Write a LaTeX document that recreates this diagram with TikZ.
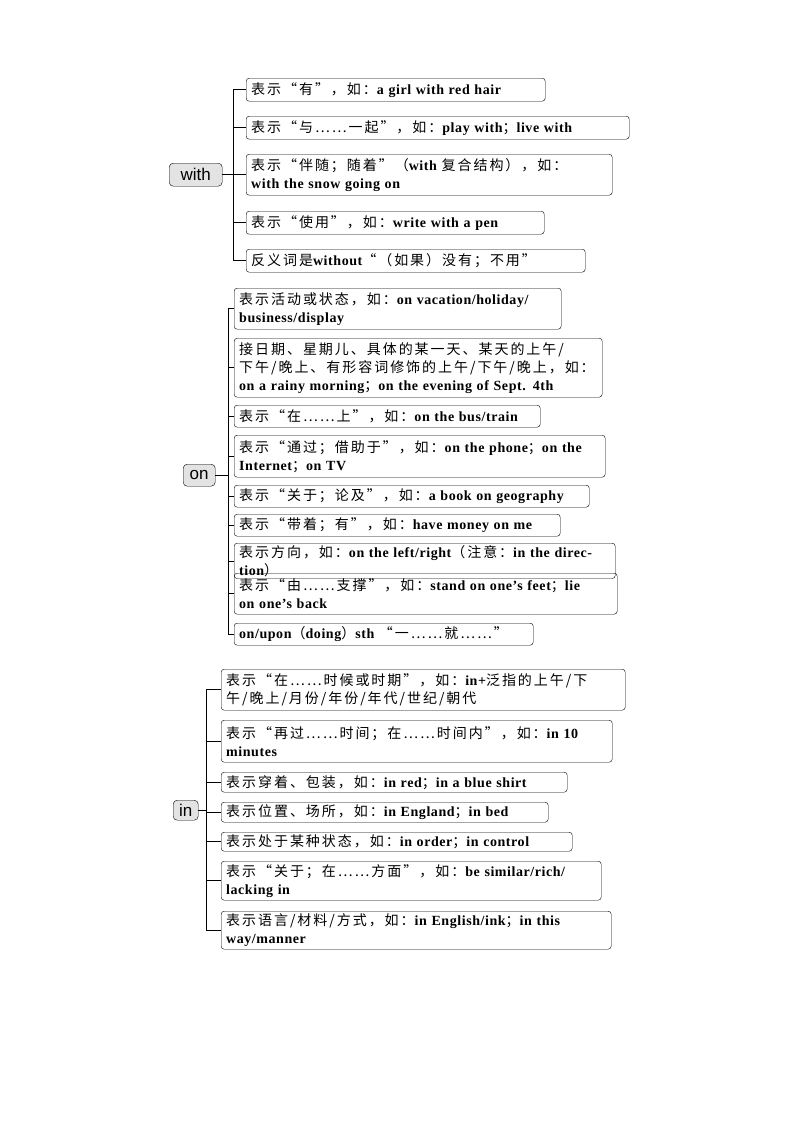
\documentclass[tikz,border=0pt]{standalone}
\usepackage{fontspec}
\setmainfont{Liberation Serif}[LetterSpace=4]
\newfontfamily\cjk{Noto Sans CJK SC}[LetterSpace=14]
\newfontfamily\rootf{Liberation Sans}
\newcommand{\C}[1]{{\cjk\mdseries #1}}
\tikzset{
  box/.style={draw, rounded corners=3pt, anchor=north west, align=left, inner xsep=5pt, inner ysep=2pt,
    font=\fontsize{14}{18}\selectfont\bfseries},
  rootbox/.style={draw, rounded corners=4pt, fill=gray!22, anchor=north west, inner sep=0pt,
    font=\rootf\fontsize{17}{18}\selectfont},
  link/.style={line width=0.7pt}
}
\newcommand{\bx}[6]{\node[box, minimum width=#4-#2, minimum height=#5-#3, text width=#4-#2-10] (#1) at (#2,#3) {#6};}
\newcommand{\rt}[6]{\node[rootbox, minimum width=#4-#2, minimum height=#5-#3] (#1) at (#2,#3) {#6};}
\begin{document}
\begin{tikzpicture}[x=1pt,y=-1pt]
\useasboundingbox (0,0) rectangle (800,1132);
% with
\rt{wr}{169}{163}{222}{186}{with}
\bx{w1}{246}{78}{545}{101}{\C{表示“有”，如：}a girl with red hair}
\bx{w2}{246}{116}{629}{139}{\C{表示“与……一起”，如：}play with\C{；}live with}
\bx{w3}{246}{154}{612}{195}{\C{表示“伴随；随着”（}with \C{复合结构），如：}\\with the snow going on}
\bx{w4}{246}{211}{544}{234}{\C{表示“使用”，如：}write with a pen}
\bx{w5}{246}{249}{585}{272}{\C{反义词是}without\C{“（如果）没有；不用”}}
\draw[link] (wr.east) -- ++(11,0) coordinate (wj);
\draw[link] (w1.west) -- (w1.west -| wj) -- (w5.west -| wj) -- (w5.west);
\foreach \n in {w2,w3,w4} \draw[link] (\n.west) -- (\n.west -| wj);
% on
\rt{or}{183}{464}{215}{486}{on}
\bx{o1}{234}{288}{561}{329}{\C{表示活动或状态，如：}on vacation/holiday/\\business/display}
\bx{o2}{234}{338}{602}{397}{\C{接日期、星期儿、具体的某一天、某天的上午/}\\\C{下午/晚上、有形容词修饰的上午/下午/晚上，如：}\\on a rainy morning\C{；}on the evening of Sept. 4th}
\bx{o3}{234}{405}{540}{427}{\C{表示“在……上”，如：}on the bus/train}
\bx{o4}{234}{435}{605}{477}{\C{表示“通过；借助于”，如：}on the phone\C{；}on the\\Internet\C{；}on TV}
\bx{o5}{234}{485}{589}{507}{\C{表示“关于；论及”，如：}a book on geography}
\bx{o6}{234}{514}{560}{536}{\C{表示“带着；有”，如：}have money on me}
\bx{o7}{234}{543}{615}{565}{\C{表示方向，如：}on the left/right\C{（注意：}in the direction\C{）}}
\bx{o8}{234}{573}{617}{614}{\C{表示“由……支撑”，如：}stand on one's feet\C{；}lie\\on one's back}
\bx{o9}{234}{623}{533}{645}{on/upon\C{（}doing\C{）}sth \C{“一……就……”}}
\draw[link] (or.east) -- ++(13,0) coordinate (oj);
\draw[link] (o1.west) -- (o1.west -| oj) -- (o9.west -| oj) -- (o9.west);
\foreach \n in {o2,o3,o4,o5,o6,o7,o8} \draw[link] (\n.west) -- (\n.west -| oj);
% in
\rt{ir}{173}{800}{198}{820}{in}
\bx{i1}{221}{669}{625}{710}{\C{表示“在……时候或时期”，如：}in+\C{泛指的上午/下}\\\C{午/晚上/月份/年份/年代/世纪/朝代}}
\bx{i2}{221}{720}{612}{762}{\C{表示“再过……时间；在……时间内”，如：}in 10\\minutes}
\bx{i3}{221}{772}{567}{792}{\C{表示穿着、包装，如：}in red\C{；}in a blue shirt}
\bx{i4}{221}{802}{548}{822}{\C{表示位置、场所，如：}in England\C{；}in bed}
\bx{i5}{221}{832}{572}{851}{\C{表示处于某种状态，如：}in order\C{；}in control}
\bx{i6}{221}{861}{601}{900}{\C{表示“关于；在……方面”，如：}be similar/rich/\\lacking in}
\bx{i7}{221}{911}{611}{949}{\C{表示语言/材料/方式，如：}in English/ink\C{；}in this\\way/manner}
\draw[link] (ir.east) -- ++(8,0) coordinate (ij);
\draw[link] (i1.west) -- (i1.west -| ij) -- (i7.west -| ij) -- (i7.west);
\foreach \n in {i2,i3,i4,i5,i6} \draw[link] (\n.west) -- (\n.west -| ij);
\end{tikzpicture}
\end{document}
